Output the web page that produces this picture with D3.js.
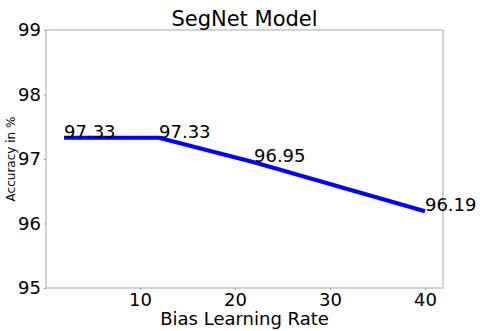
<!DOCTYPE html>
<html>
  <head>
    <meta charset="utf-8">
    <title>SegNet Model</title>
    <script src="https://d3js.org/d3.v7.min.js"></script>
    <style>
      body { margin: 0; background: #fff; }
      text { font-family: "DejaVu Sans", sans-serif; fill: #000; }
    </style>
  </head>
  <body>
    <div id="chart"></div>
    <script>
      // data
      const rates = [2, 12, 22, 40];
      const accuracy = [97.33, 97.33, 96.95, 96.19];
      const xTicks = [10, 20, 30, 40];
      const yTicks = [95, 96, 97, 98, 99];

      const width = 480, height = 331;
      const margin = { top: 30, right: 37, bottom: 43, left: 46 };

      const svg = d3.select("#chart")
        .append("svg")
        .attr("width", width)
        .attr("height", height);

      // scales (matplotlib-style 5% x margin)
      const x = d3.scaleLinear()
        .domain([0.1, 41.9])
        .range([margin.left, width - margin.right]);
      const y = d3.scaleLinear()
        .domain([95, 99])
        .range([height - margin.bottom, margin.top]);

      // axes
      const xAxis = svg.append("g")
        .attr("transform", "translate(0," + (height - margin.bottom) + ")")
        .call(d3.axisBottom(x).tickValues(xTicks).tickFormat(d3.format("d"))
          .tickSizeInner(2).tickSizeOuter(0).tickPadding(3));
      const yAxis = svg.append("g")
        .attr("transform", "translate(" + margin.left + ",0)")
        .call(d3.axisLeft(y).tickValues(yTicks).tickFormat(d3.format("d"))
          .tickSizeInner(2).tickSizeOuter(0).tickPadding(3));
      [xAxis, yAxis].forEach(function(a) {
        a.select(".domain").remove();
        a.selectAll(".tick line").attr("stroke", "#999");
        a.selectAll(".tick text")
          .style("font-size", "18px")
          .style("font-family", "DejaVu Sans, sans-serif");
      });

      // frame
      svg.append("rect")
        .attr("x", margin.left)
        .attr("y", margin.top)
        .attr("width", width - margin.left - margin.right)
        .attr("height", height - margin.top - margin.bottom)
        .attr("fill", "none")
        .attr("stroke", "#aaa")
        .attr("stroke-width", 1);

      // line
      const pts = rates.map(function(r, i) { return [r, accuracy[i]]; });
      svg.append("path")
        .datum(pts)
        .attr("fill", "none")
        .attr("stroke", "#0000ff")
        .attr("stroke-width", 4)
        .attr("d", d3.line()
          .x(function(d) { return x(d[0]); })
          .y(function(d) { return y(d[1]); }));

      // point labels
      svg.selectAll(".lbl")
        .data(pts)
        .enter().append("text")
          .attr("class", "lbl")
          .attr("x", function(d) { return x(d[0]); })
          .attr("y", function(d) { return y(d[1]); })
          .style("font-size", "18px")
          .text(function(d) { return d[1].toFixed(2); });

      // titles
      svg.append("text")
        .attr("x", (margin.left + width - margin.right) / 2)
        .attr("y", 26)
        .attr("text-anchor", "middle")
        .style("font-size", "21px")
        .text("SegNet Model");
      svg.append("text")
        .attr("x", (margin.left + width - margin.right) / 2)
        .attr("y", 325)
        .attr("text-anchor", "middle")
        .style("font-size", "18px")
        .text("Bias Learning Rate");
      svg.append("text")
        .attr("transform", "translate(15," + (height - margin.bottom + margin.top) / 2 + ") rotate(-90)")
        .attr("text-anchor", "middle")
        .style("font-size", "12px")
        .text("Accuracy in %");
    </script>
  </body>
</html>
